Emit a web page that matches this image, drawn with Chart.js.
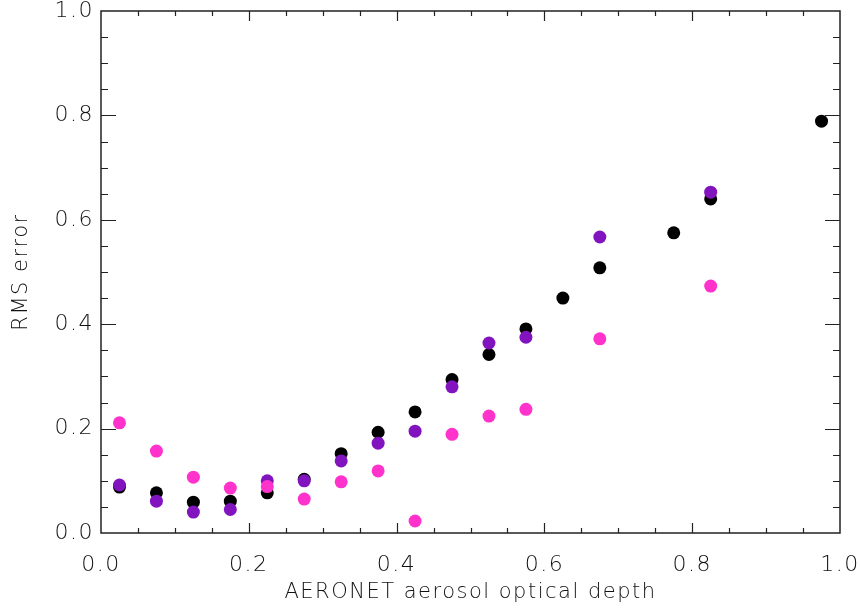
<!DOCTYPE html>
<html>
<head>
<meta charset="utf-8">
<script src="https://cdn.jsdelivr.net/npm/chart.js@4"></script>
<style>
html,body{margin:0;padding:0;background:#fff;}
#wrap{width:860px;height:610px;}
</style>
</head>
<body>
<div id="wrap"><canvas id="c" width="860" height="610"></canvas></div>
<script>
// bin centres (AERONET AOD)
const aodBlack   = [0.025,0.075,0.125,0.175,0.225,0.275,0.325,0.375,0.425,0.475,0.525,0.575,0.625,0.675,0.775,0.825,0.975];
const rmsBlack   = [0.088,0.077,0.059,0.061,0.077,0.103,0.152,0.193,0.232,0.294,0.342,0.391,0.450,0.508,0.575,0.640,0.789];
const aodPurple  = [0.025,0.075,0.125,0.175,0.225,0.275,0.325,0.375,0.425,0.475,0.525,0.575,0.675,0.825];
const rmsPurple  = [0.092,0.061,0.040,0.045,0.100,0.100,0.138,0.172,0.195,0.280,0.364,0.375,0.567,0.653];
const aodMagenta = [0.025,0.075,0.125,0.175,0.225,0.275,0.325,0.375,0.425,0.475,0.525,0.575,0.675,0.825];
const rmsMagenta = [0.211,0.157,0.107,0.086,0.089,0.065,0.098,0.119,0.023,0.189,0.224,0.237,0.372,0.473];
const xTickLabels = [0.0,0.2,0.4,0.6,0.8,1.0];
const yTickLabels = [0.0,0.2,0.4,0.6,0.8,1.0];
const minorStep = 0.05;

const toPts = (xs, ys) => xs.map((x,i) => ({x:x, y:ys[i]}));

const FONT = "'DejaVu Sans', sans-serif";
const TXT = '#111';

const spacing = {
  id:'spacing',
  beforeDraw(chart){ chart.ctx.letterSpacing = '1.5px'; }
};

const boxTicks = {
  id:'boxTicks',
  afterDatasetsDraw(chart){
    const {ctx, chartArea:a, scales:{x,y}} = chart;
    ctx.save();
    ctx.strokeStyle = '#222';
    ctx.lineWidth = 1.5;
    ctx.strokeRect(a.left, a.top, a.right-a.left, a.bottom-a.top);
    ctx.lineWidth = 1.2;
    ctx.beginPath();
    const n = Math.round(1/minorStep);
    for(let i=1;i<n;i++){
      const v = i*minorStep;
      const major = (i % 4) === 0;
      const px = Math.round(x.getPixelForValue(v))+0.5;
      const lx = major ? 10 : 5;
      ctx.moveTo(px, a.bottom); ctx.lineTo(px, a.bottom-lx);
      ctx.moveTo(px, a.top);    ctx.lineTo(px, a.top+lx);
      const py = Math.round(y.getPixelForValue(v))+0.5;
      const ly = major ? 15 : 7;
      ctx.moveTo(a.left, py);  ctx.lineTo(a.left+ly, py);
      ctx.moveTo(a.right, py); ctx.lineTo(a.right-ly, py);
    }
    ctx.stroke();
    ctx.restore();
  }
};

new Chart(document.getElementById('c'), {
  type:'scatter',
  data:{
    datasets:[
      {label:'magenta', data:toPts(aodMagenta,rmsMagenta), backgroundColor:'#ff33cc', borderColor:'#ff33cc', pointRadius:6.5, pointBorderWidth:0},
      {label:'purple',  data:toPts(aodPurple,rmsPurple),   backgroundColor:'#8214c0', borderColor:'#8214c0', pointRadius:6.5, pointBorderWidth:0},
      {label:'black',   data:toPts(aodBlack,rmsBlack),     backgroundColor:'#000000', borderColor:'#000000', pointRadius:6.5, pointBorderWidth:0}
    ]
  },
  options:{
    responsive:false,
    animation:false,
    layout:{padding:{top:11,right:20,left:0,bottom:0}},
    plugins:{legend:{display:false}, tooltip:{enabled:false}},
    scales:{
      x:{
        type:'linear', min:0, max:1,
        afterFit(s){ s.height = 77; s.paddingLeft = 0; s.paddingRight = 0; },
        afterBuildTicks(s){ s.ticks = xTickLabels.map(v=>({value:v})); },
        grid:{display:false, drawTicks:false},
        border:{display:false},
        ticks:{color:TXT, font:{family:FONT,size:22,weight:'300'}, padding:19, maxRotation:0,
               callback:v=>Number(v).toFixed(1)},
        title:{display:true, text:'AERONET aerosol optical depth', color:TXT,
               font:{family:FONT,size:21,weight:'300'}, padding:{top:0,bottom:5}}
      },
      y:{
        type:'linear', min:0, max:1,
        afterFit(s){ s.width = 101; s.paddingTop = 0; s.paddingBottom = 0; },
        afterBuildTicks(s){ s.ticks = yTickLabels.map(v=>({value:v})); },
        grid:{display:false, drawTicks:false},
        border:{display:false},
        ticks:{color:TXT, font:{family:FONT,size:22,weight:'300'}, padding:7,
               callback:v=>Number(v).toFixed(1)},
        title:{display:true, text:'RMS error', color:TXT,
               font:{family:FONT,size:21,weight:'300'}, padding:{top:9,bottom:0}}
      }
    }
  },
  plugins:[spacing, boxTicks]
});
</script>
</body>
</html>
